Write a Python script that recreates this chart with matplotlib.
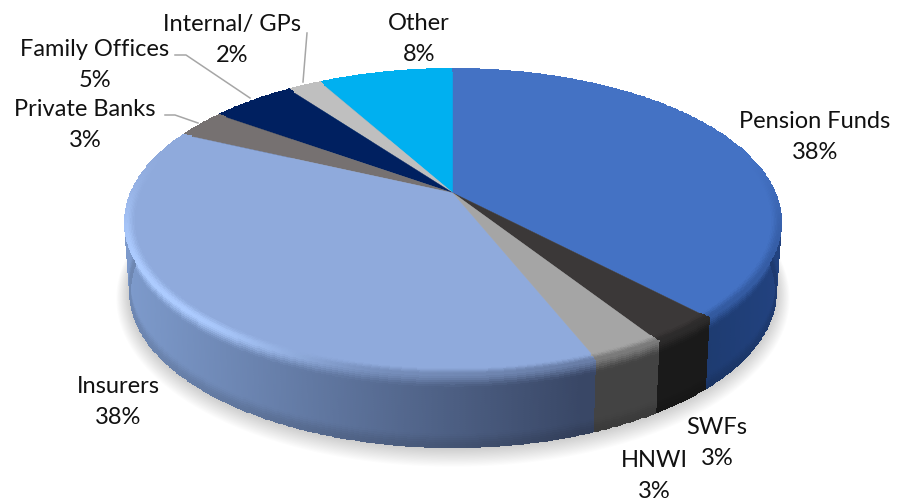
import numpy as np
import matplotlib
matplotlib.use('Agg')
import matplotlib.pyplot as plt
from matplotlib.colors import to_rgb

# investor split, clockwise from twelve o'clock
names = ['Pension Funds', 'SWFs', 'HNWI', 'Insurers', 'Private Banks', 'Family Offices', 'Internal/ GPs', 'Other']
shares = [38, 3, 3, 38, 3, 5, 2, 8]

top_colors = ['#4472c4', '#3b3838', '#a5a5a5', '#8faadc', '#767171', '#002060', '#bfbfbf', '#00b0f0']
# side wall colour at the left and right end of the disc
side_left = ['#1d3a6e', '#1a1a1a', '#4a4a4a', '#7d9acb', '#555050', '#001030', '#888888', '#0080b0']
side_right = ['#22427f', '#1a1a1a', '#434343', '#394766', '#555050', '#001030', '#888888', '#0080b0']

label_pos = [(815, 137), (717, 443), (654, 476), (118, 402), (85, 125), (95, 65), (232, 40), (419, 39)]

# disc projection
cx, cy = 453.0, 193.0
k = 0.19
A, B = 322.0, 147.6
A2, B2, drop = 317.0, 150.0, 69.0


def project(r, th, bottom=0.0):
    # th is clockwise from the top of the disc, bottom goes 0..1 down the wall
    u = r * np.sin(th)
    v = r * np.cos(th)
    w = 1 + k * v
    a = A + (A2 - A) * bottom
    b = B + (B2 - B) * bottom
    return cx + a * u / w, cy + bottom * drop - b * v / w


def mix(c1, c2, t):
    c1 = np.asarray(c1)
    c2 = np.asarray(c2)
    t = np.clip(t, 0, 1)
    return c1 * (1 - t)[..., None] + c2 * t[..., None]


def smooth(a, b, x):
    t = np.clip((x - a) / (b - a), 0, 1)
    return t * t * (3 - 2 * t)


# rim weight: the bevel only shows on the near half of the disc
def rim_weight(th):
    return 1 - smooth(-0.45, 0.3, np.cos(th))


def highlight(th):
    return smooth(0.15, 0.75, -np.sin(th))


def wall_color(i, xc):
    if i == 0:
        return mix(to_rgb(side_left[i]), to_rgb(side_right[i]), (xc - 695) / 80)
    return mix(to_rgb(side_left[i]), to_rgb(side_right[i]), (xc - 130) / 450)


fig = plt.figure(figsize=(9.07, 5.03), dpi=100)
ax = fig.add_axes([0, 0, 1, 1])
ax.set_xlim(0, 907)
ax.set_ylim(503, 0)
ax.axis('off')

plt.rcParams['font.family'] = ['Lato', 'DejaVu Sans']

edges = np.cumsum([0] + shares) / sum(shares) * 2 * np.pi

# soft shadow under the disc
ring = np.linspace(0, 2 * np.pi, 300)
sx, sy = project(1.0, ring, 1.0)
for e in np.linspace(18, 0, 18):
    ax.fill(cx + (sx - cx) * (1 + e / 420), cy + 70 + (sy - cy - 70) * (1 + e / 220) + e * 0.25,
            color='#000000', alpha=0.011, lw=0, zorder=1)

order = np.argsort([-np.cos((edges[i] + edges[i + 1]) / 2) for i in range(len(shares))])
for i in order:
    th = np.linspace(edges[i], edges[i + 1], max(8, int(shares[i] * 8)))
    top = to_rgb(top_colors[i])
    light = np.clip(np.array(top) * 1.15 + 0.03, 0, 1)

    # side wall
    s = np.linspace(0, 1, 36)
    T, S = np.meshgrid(th, s)
    X, Y = project(1.0, T, S)
    Tc = (T[:-1, :-1] + T[1:, 1:]) / 2
    Sc = (S[:-1, :-1] + S[1:, 1:]) / 2
    Xc = (X[:-1, :-1] + X[1:, 1:]) / 2
    wall = wall_color(i, Xc)
    wall = wall * (1 - 0.12 * smooth(0.8, 1.0, Sc))[..., None]
    edge = mix(mix(top, wall, np.full_like(Sc, 0.45)), np.broadcast_to(light, wall.shape), highlight(Tc))
    rgb = mix(edge, wall, smooth(0.0, 0.2, Sc))
    ax.pcolormesh(X, Y, rgb, shading='flat', edgecolors='face', linewidth=0.3, zorder=2)

    # flat top of the wedge
    tx, ty = project(1.0, th)
    ax.fill(np.r_[cx, tx], np.r_[cy, ty], color=top_colors[i], lw=0.3, ec=top_colors[i], zorder=3)

    # bevel band along the front of the top
    r = np.linspace(0.97, 1.0, 8)
    T, R = np.meshgrid(th, r)
    X, Y = project(R, T)
    Tc = (T[:-1, :-1] + T[1:, 1:]) / 2
    Rc = (R[:-1, :-1] + R[1:, 1:]) / 2
    Xc = (X[:-1, :-1] + X[1:, 1:]) / 2
    wall = wall_color(i, Xc)
    edge = mix(mix(top, wall, np.full_like(Rc, 0.45)), np.broadcast_to(light, wall.shape), highlight(Tc))
    t = smooth(0.97, 1.0, Rc) * rim_weight(Tc)
    rgb = mix(np.broadcast_to(top, wall.shape), edge, t)
    ax.pcolormesh(X, Y, rgb, shading='flat', edgecolors='face', linewidth=0.3, zorder=4)

# leader lines
ax.plot([175, 186, 250], [55, 55, 98], color='#a6a6a6', lw=1.1, zorder=5)
ax.plot([165, 175, 198], [115, 115, 123], color='#a6a6a6', lw=1.1, zorder=5)
ax.plot([307, 303], [33, 82], color='#a6a6a6', lw=1.1, zorder=5)

for name, val, (x, y) in zip(names, shares, label_pos):
    ax.text(x, y, f'{name}\n{val}%', ha='center', va='center', ma='center',
            fontsize=17, color='#111111', linespacing=1.55, zorder=6)

plt.savefig('out.png', dpi=100)
